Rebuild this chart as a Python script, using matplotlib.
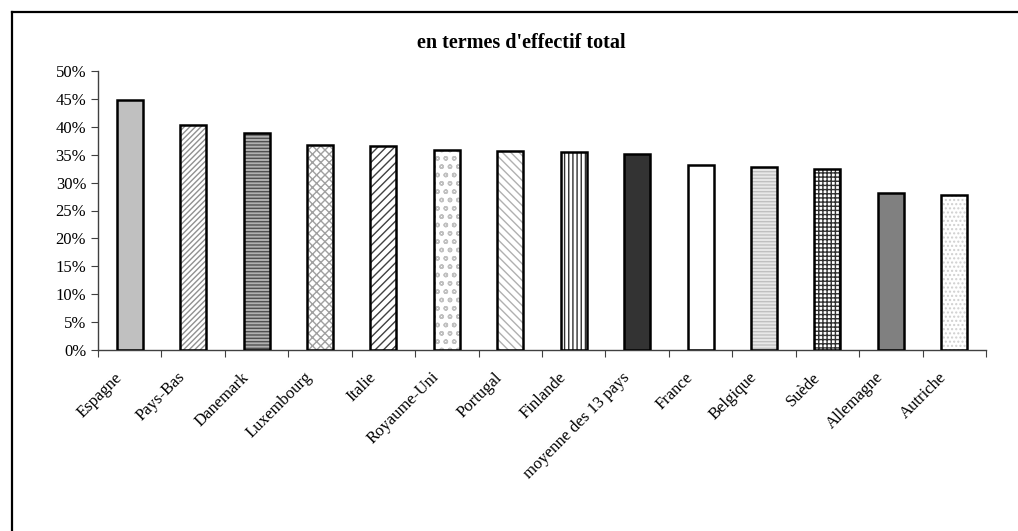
import matplotlib
matplotlib.use('Agg')
import matplotlib.pyplot as plt
import numpy as np
from matplotlib.lines import Line2D
from matplotlib.ticker import FuncFormatter, FixedLocator
from matplotlib.transforms import ScaledTranslation

plt.rcParams['font.family'] = ['Liberation Serif', 'DejaVu Serif']
plt.rcParams['hatch.linewidth'] = 1.0

# Données : part en termes d'effectif total
pays = ['Espagne', 'Pays-Bas', 'Danemark', 'Luxembourg', 'Italie', 'Royaume-Uni',
        'Portugal', 'Finlande', 'moyenne des 13 pays', 'France', 'Belgique',
        'Suède', 'Allemagne', 'Autriche']
parts = [44.8, 40.4, 38.9, 36.8, 36.6, 35.9, 35.6, 35.5, 35.1, 33.2, 32.8, 32.4, 28.1, 27.8]

# Remplissage de chaque barre : (couleur de fond, motif, couleur du motif)
styles = [
    ('#c0c0c0', None, None),
    ('white', '//////', '#909090'),
    ('#b0b0b0', '-----', '#505050'),
    ('white', 'xxxx', '#a0a0a0'),
    ('white', '////', '#404040'),
    ('white', 'oo', '#c0c0c0'),
    ('white', '\\\\\\\\', '#b0b0b0'),
    ('white', '||||', '#303030'),
    ('#333333', None, None),
    ('white', None, None),
    ('#e8e8e8', '-----', '#c0c0c0'),
    ('white', '++++', '#303030'),
    ('#808080', None, None),
    ('white', '....', '#d0d0d0'),
]

fig = plt.figure(figsize=(10.18, 5.31), dpi=100)
W, H = 1018, 531
ax = fig.add_axes([98 / W, 1 - 350 / H, (986 - 98) / W, (350 - 71) / H])

x = np.arange(len(pays))
largeur = 0.41
for xi, val, (fond, motif, coul) in zip(x, parts, styles):
    if motif:
        ax.bar(xi, val / 100, largeur, color=fond, hatch=motif, edgecolor=coul,
               linewidth=0, zorder=2)
    else:
        ax.bar(xi, val / 100, largeur, color=fond, linewidth=0, zorder=2)
    ax.bar(xi, val / 100, largeur, fill=False, edgecolor='black', linewidth=1.8, zorder=3)

ax.set_xlim(-0.5, len(pays) - 0.5)
ax.set_ylim(0, 0.5)
ax.set_yticks(np.arange(0, 0.51, 0.05))
ax.yaxis.set_major_formatter(FuncFormatter(lambda v, p: f'{v * 100:.0f}%'))

# Graduations aux limites des catégories
ax.set_xticks(np.arange(-0.5, len(pays), 1.0))
ax.set_xticklabels([])
ax.tick_params(axis='x', length=5, direction='out', color='#404040')
ax.tick_params(axis='y', length=5, direction='out', labelsize=12, color='#404040')

# Noms des pays inclinés, terminés sous le centre de chaque barre
decalage = ScaledTranslation(-0.10, -0.25, fig.dpi_scale_trans)
for xi, nom in zip(x, pays):
    ax.text(xi, 0, nom, transform=ax.get_xaxis_transform() + decalage,
            rotation=45, ha='right', va='center', rotation_mode='anchor', fontsize=12)

for s in ['top', 'right']:
    ax.spines[s].set_visible(False)
for s in ['left', 'bottom']:
    ax.spines[s].set_color('#404040')
    ax.spines[s].set_linewidth(1.0)

fig.text(521 / W, 1 - 43 / H, "en termes d'effectif total", ha='center', va='center',
         fontsize=14.5, fontweight='bold')

# Cadre extérieur du graphique
fig.add_artist(Line2D([12 / W, 1.0], [1 - 12 / H, 1 - 12 / H], color='black', linewidth=1.6))
fig.add_artist(Line2D([12 / W, 12 / W], [0.0, 1 - 12 / H], color='black', linewidth=1.6))

fig.savefig('out.png', dpi=100)
